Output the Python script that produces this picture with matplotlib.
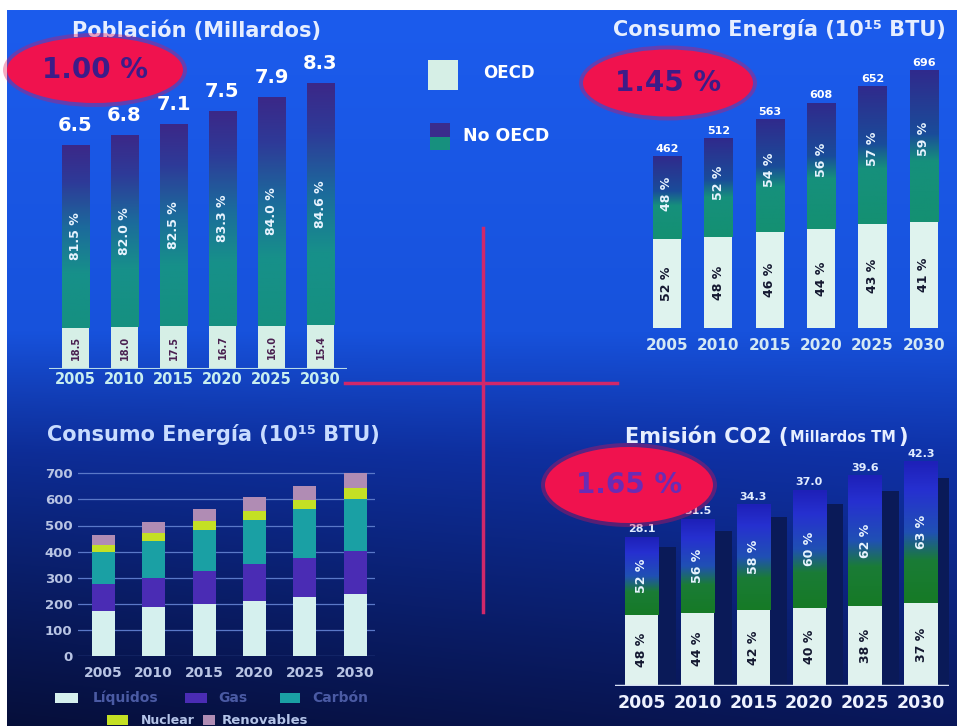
import numpy as np
import matplotlib
matplotlib.use('Agg')
import matplotlib.pyplot as plt
from matplotlib.patches import Ellipse, Rectangle
from matplotlib.colors import LinearSegmentedColormap, to_rgb
from matplotlib.lines import Line2D

# ---------------- data ----------------
years = ['2005', '2010', '2015', '2020', '2025', '2030']

pop_total = [6.5, 6.8, 7.1, 7.5, 7.9, 8.3]
pop_oecd_pct = [18.5, 18.0, 17.5, 16.7, 16.0, 15.4]
pop_nooecd_pct = [81.5, 82.0, 82.5, 83.3, 84.0, 84.6]

en_total = [462, 512, 563, 608, 652, 696]
en_oecd_pct = [52, 48, 46, 44, 43, 41]
en_nooecd_pct = [48, 52, 54, 56, 57, 59]

co2_total = [28.1, 31.5, 34.3, 37.0, 39.6, 42.3]
co2_oecd_pct = [48, 44, 42, 40, 38, 37]
co2_nooecd_pct = [52, 56, 58, 60, 62, 63]

fuel_names = ['Líquidos', 'Gas', 'Carbón', 'Nuclear', 'Renovables']
liquidos = [172, 186, 199, 212, 225, 238]
gas = [104, 114, 127, 140, 152, 163]
carbon = [122, 140, 157, 168, 185, 202]
nuclear = [28, 30, 33, 35, 37, 39]
renovables = [36, 42, 47, 53, 53, 60]
fuel_colors = ['#d5f0ee', '#4a2cb4', '#1aa0a4', '#c4e024', '#b08cb4']

growth_labels = ['1.00 %', '1.45 %', '1.65 %']

# ---------------- figure ----------------
W, H = 957, 726
fig = plt.figure(figsize=(W / 100, H / 100), dpi=100, facecolor='white')

# background gradient
bg = fig.add_axes([7 / W, 0, (W - 7) / W, (H - 10) / H])
bg.axis('off')
ny, nx = 300, 200
tt = np.linspace(0, 1, ny)
xx = np.linspace(0, 1, nx)
st = [0, 0.45, 0.62, 1]
sc = [to_rgb(c) for c in ['#1c5ced', '#1752dc', '#0f32a8', '#09175a']]
base = np.stack([np.interp(tt, st, [c[k] for c in sc]) for k in range(3)], axis=-1)
kk = 0.35 * np.clip((tt - 0.45) / 0.55, 0, 1)
img = base[:, None, :] * (1 - kk[:, None] * (1 - xx[None, :]))[..., None]
bg.imshow(np.clip(img, 0, 1), aspect='auto', extent=[0, 1, 0, 1])


def panel(c0, step, basepx, ppu, xlim, ylim):
    left = c0 + xlim[0] * step
    right = c0 + xlim[1] * step
    top = basepx - ylim[1] * ppu
    bot = basepx - ylim[0] * ppu
    ax = fig.add_axes([left / W, 1 - bot / H, (right - left) / W, (bot - top) / H])
    ax.set_xlim(xlim)
    ax.set_ylim(ylim)
    ax.patch.set_visible(False)
    for s in ax.spines.values():
        s.set_visible(False)
    ax.set_yticks([])
    return ax


grad = np.linspace(0, 1, 256).reshape(-1, 1)


def stacked(ax, totals, opct, npct, width, light, cmap, xlim, ylim):
    x = np.arange(len(totals))
    totals = np.array(totals, float)
    oh = totals * np.array(opct) / 100
    nh = totals * np.array(npct) / 100
    ax.bar(x, oh, width, color=light, zorder=3, linewidth=0)
    b2 = ax.bar(x, nh, width, bottom=oh, color='none', zorder=3, linewidth=0)
    for p in b2:
        ax.imshow(grad, cmap=cmap, aspect='auto', origin='lower',
                  extent=[p.get_x(), p.get_x() + p.get_width(),
                          p.get_y(), p.get_y() + p.get_height()], zorder=2.9)
    ax.set_xlim(xlim)
    ax.set_ylim(ylim)
    return x, oh, nh


def xyears(ax, color, size, pad):
    ax.set_xticks(range(6), years)
    ax.tick_params(axis='x', length=0, pad=pad, labelcolor=color, labelsize=size)
    for l in ax.get_xticklabels():
        l.set_fontweight('bold')


# ---------- Panel 1: Poblacion ----------
cm1 = LinearSegmentedColormap.from_list('p1', [(0, '#159080'), (0.3, '#17908a'), (0.55, '#1c6a9c'),
                                               (0.8, '#2e3a98'), (1, '#3b2888')])
xl1, yl1 = (-0.55, 5.55), (0, 9.5)
ax1 = panel(75.5, 49.0, 369, 34.4, xl1, yl1)
x, oh, nh = stacked(ax1, pop_total, pop_oecd_pct, pop_nooecd_pct, 0.57, '#d6efe6', cm1, xl1, yl1)
for i in x:
    ax1.text(i, pop_total[i] + 0.3, f'{pop_total[i]:.1f}', ha='center', va='bottom',
             color='white', fontsize=14, fontweight='bold', zorder=5)
    ax1.text(i, oh[i] / 2, f'{pop_oecd_pct[i]:.1f}', ha='center', va='center', rotation=90,
             color='#4a2050', fontsize=7, fontweight='bold', zorder=5)
    ax1.text(i, oh[i] + nh[i] * 0.5, f'{pop_nooecd_pct[i]:.1f} %', ha='center', va='center',
             rotation=90, color='#e8f4ff', fontsize=9, fontweight='bold', zorder=5)
ax1.axhline(0, color='#b8dce8', lw=1.5, zorder=4)
xyears(ax1, '#c8eef0', 10.5, 2)

# ---------- Panel 2: Consumo energia OECD ----------
cm2 = LinearSegmentedColormap.from_list('p2', [(0, '#149072'), (0.4, '#16907c'), (0.58, '#1a4c9a'),
                                               (1, '#302a8c')])
xl2, yl2 = (-0.53, 5.5), (0, 790)
ax2 = panel(666.9, 51.4, 328, 0.37, xl2, yl2)
x, oh, nh = stacked(ax2, en_total, en_oecd_pct, en_nooecd_pct, 0.55, '#dff3ee', cm2, xl2, yl2)
for i in x:
    ax2.text(i, en_total[i] + 8, f'{en_total[i]}', ha='center', va='bottom',
             color='white', fontsize=8, fontweight='bold', zorder=5)
    ax2.text(i, oh[i] / 2, f'{en_oecd_pct[i]} %', ha='center', va='center', rotation=90,
             color='#141830', fontsize=9, fontweight='bold', zorder=5)
    ax2.text(i, oh[i] + nh[i] * 0.55, f'{en_nooecd_pct[i]} %', ha='center', va='center',
             rotation=90, color='#e8f4ff', fontsize=9, fontweight='bold', zorder=5)
ax2.axhline(-8, color='#d8e4f8', lw=2.5, zorder=4)
xyears(ax2, '#d4e8f4', 11, 7)

# ---------- Panel 3: Consumo energia por fuente ----------
xl3, yl3 = (-0.5, 5.4), (0, 712)
ax3 = panel(103.3, 50.4, 656, 0.261, xl3, yl3)
bottom = np.zeros(6)
for vals, col in zip([liquidos, gas, carbon, nuclear, renovables], fuel_colors):
    ax3.bar(np.arange(6), vals, 0.46, bottom=bottom, color=col, zorder=3, linewidth=0)
    bottom = bottom + np.array(vals)
ax3.set_yticks(range(0, 800, 100))
ax3.grid(axis='y', color='#5a78c8', lw=0.9, zorder=0)
ax3.set_axisbelow(True)
ax3.tick_params(axis='y', length=0, pad=4, labelcolor='#b8c4e4', labelsize=9.5)
for l in ax3.get_yticklabels():
    l.set_fontweight('bold')
xyears(ax3, '#b8c4e4', 10, 7)

# ---------- Panel 4: Emision CO2 ----------
cm4 = LinearSegmentedColormap.from_list('p4', [(0, '#167a26'), (0.3, '#1a7c36'), (0.5, '#2050b4'),
                                               (0.8, '#2630d0'), (1, '#1e20b8')])
xl4, yl4 = (-0.47, 5.5), (0, 46)
ax4 = panel(641.6, 55.9, 686, 5.3, xl4, yl4)
ax4.bar(np.arange(6) + 0.45, np.array(co2_total) * 0.93, 0.32, color='#0a1a58', zorder=2, linewidth=0)
x, oh, nh = stacked(ax4, co2_total, co2_oecd_pct, co2_nooecd_pct, 0.6, '#e0f2ee', cm4, xl4, yl4)
for i in x:
    ax4.text(i, co2_total[i] + 0.5, f'{co2_total[i]:.1f}', ha='center', va='bottom',
             color='#e0ecff', fontsize=8, fontweight='bold', zorder=5)
    ax4.text(i, oh[i] / 2, f'{co2_oecd_pct[i]} %', ha='center', va='center', rotation=90,
             color='#141830', fontsize=9, fontweight='bold', zorder=5)
    ax4.text(i, oh[i] + nh[i] * 0.5, f'{co2_nooecd_pct[i]} %', ha='center', va='center',
             rotation=90, color='#e8f4ff', fontsize=9, fontweight='bold', zorder=5)
ax4.axhline(0, color='#d8e0f4', lw=2.5, zorder=4)
xyears(ax4, '#eef2ff', 12.5, 6)


# ---------------- titles ----------------
def ftxt(xp, yp, s, **kw):
    return fig.text(xp / W, 1 - yp / H, s, **kw)


tkw = dict(color='#e6eeff', fontweight='bold', va='center', zorder=5)
ftxt(197, 31, 'Población (Millardos)', ha='center', fontsize=15, **tkw)
ftxt(779, 30, 'Consumo Energía (10¹⁵ BTU)', ha='center', fontsize=15, **tkw)
ftxt(213, 434, 'Consumo Energía (10¹⁵ BTU)', ha='center', fontsize=15, color='#c8dcff',
     fontweight='bold', va='center', zorder=5)

# composite CO2 title: large / small / large parts placed one after another
renderer = fig.canvas.get_renderer()
parts = [('Emisión CO2 (', 15), ('Millardos TM', 10.5), (')', 15)]
xcur = 625
for s, fs in parts:
    t = ftxt(xcur, 437, s, ha='left', fontsize=fs, **tkw)
    xcur += t.get_window_extent(renderer).width + 2

# ---------------- top legend ----------------
fig.add_artist(Rectangle((428 / W, 1 - 90 / H), 30 / W, 30 / H, transform=fig.transFigure,
                         facecolor='#d6efe6', edgecolor='none', zorder=4))
fig.add_artist(Rectangle((430 / W, 1 - 150 / H), 20 / W, 13 / H, transform=fig.transFigure,
                         facecolor='#17907e', edgecolor='none', zorder=4))
fig.add_artist(Rectangle((430 / W, 1 - 137 / H), 20 / W, 14 / H, transform=fig.transFigure,
                         facecolor='#3a2c8c', edgecolor='none', zorder=4))
ftxt(483, 73, 'OECD', ha='left', fontsize=12, color='white', fontweight='bold', va='center')
ftxt(463, 136, 'No OECD', ha='left', fontsize=12.5, color='white', fontweight='bold', va='center')

# ---------------- bottom-left legend ----------------
leg_pos = [(55, 698, 23, 93, '#4a5aa4', 10), (185, 698, 22, 218, '#4a5aa4', 10),
           (280, 698, 20, 312, '#4a5aa4', 10),
           (107, 720, 21, 141, '#b4c4e8', 9), (203, 720, 12, 222, '#b4c4e8', 9.5)]
for (sx, sy, sw, tx, tc, fs), name, col in zip(leg_pos, fuel_names, fuel_colors):
    fig.add_artist(Rectangle((sx / W, 1 - (sy + 5) / H), sw / W, 10 / H, transform=fig.transFigure,
                             facecolor=col, edgecolor='none', zorder=4))
    ftxt(tx, sy, name, ha='left', va='center', fontsize=fs, color=tc, fontweight='bold')

# ---------------- red cross ----------------
fig.add_artist(Line2D([483 / W, 483 / W], [1 - 228 / H, 1 - 612 / H], transform=fig.transFigure,
                      color='#d0286a', lw=2.5, zorder=3))
fig.add_artist(Line2D([345 / W, 617 / W], [1 - 383 / H, 1 - 383 / H], transform=fig.transFigure,
                      color='#d0286a', lw=2.5, zorder=3))

# ---------------- ellipses ----------------
ell = [(95, 70, 176, 66, '#3c1c88'), (668, 83, 170, 67, '#3c1c88'), (629, 485, 168, 76, '#6a2cb4')]
for (cx, cy, ew, eh, tc), lab in zip(ell, growth_labels):
    fig.add_artist(Ellipse((cx / W, 1 - cy / H), (ew + 8) / W, (eh + 8) / H, transform=fig.transFigure,
                           facecolor='#e8104c', alpha=0.35, edgecolor='none', zorder=9))
    fig.add_artist(Ellipse((cx / W, 1 - cy / H), ew / W, eh / H, transform=fig.transFigure,
                           facecolor='#f0124e', edgecolor='none', zorder=10))
    ftxt(cx, cy, lab, ha='center', va='center', fontsize=20, color=tc, fontweight='bold', zorder=11)

fig.savefig('out.png', dpi=100, facecolor='white')
